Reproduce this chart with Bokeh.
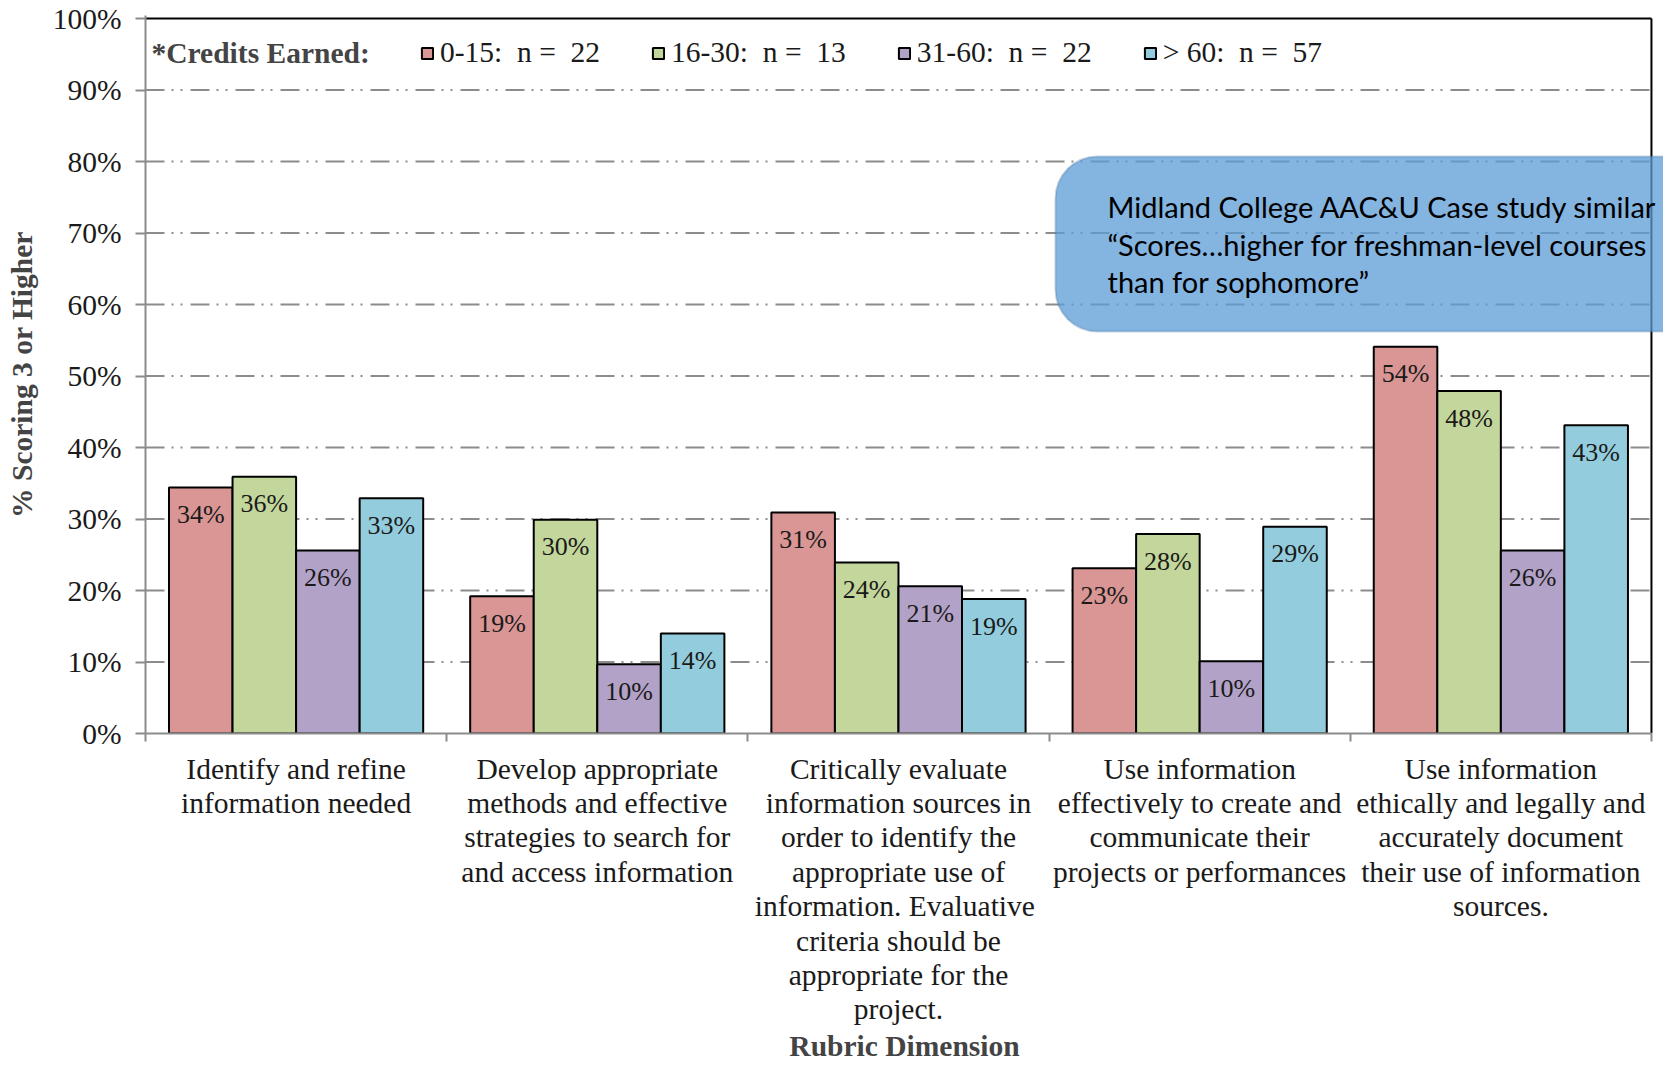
from bokeh.plotting import figure
from bokeh.models import (Range1d, FixedTicker, ColumnDataSource, Legend, LegendItem,
                          Label, BoxAnnotation, PrintfTickFormatter)
from bokeh.transform import dodge
from bokeh.core.properties import value
from bokeh.embed import file_html
from bokeh.resources import INLINE

# ---------------- data ----------------
categories = [
    "Identify and refine\ninformation needed",
    "Develop appropriate\nmethods and effective\nstrategies to search for\nand access information",
    "Critically evaluate\ninformation sources in\norder to identify the\nappropriate use of\ninformation.  Evaluative\ncriteria should be\nappropriate for the\nproject.",
    "Use information\neffectively to create and\ncommunicate their\nprojects or performances",
    "Use information\nethically and legally and\naccurately document\ntheir use of information\nsources.",
]
series_names = ["0-15:  n =  22", "16-30:  n =  13", "31-60:  n =  22", "> 60:  n =  57"]
credits_0_15 = [34.4, 19.2, 30.9, 23.1, 54.1]
credits_16_30 = [35.9, 29.9, 23.9, 27.9, 47.9]
credits_31_60 = [25.6, 9.7, 20.6, 10.1, 25.6]
credits_60_plus = [32.9, 14.0, 18.8, 28.9, 43.1]
y_ticks = [0, 10, 20, 30, 40, 50, 60, 70, 80, 90, 100]
legend_title = "*Credits Earned:"
x_title = "Rubric Dimension"
y_title = "% Scoring 3 or Higher"
callout_lines = [
    "Midland College AAC&U Case study similar",
    "\u201cScores\u2026higher for freshman-level courses",
    "than for sophomore\u201d",
]

colors = ["#D99694", "#C3D69B", "#B3A2C7", "#93CDDD"]
series = [credits_0_15, credits_16_30, credits_31_60, credits_60_plus]

# ---------------- layout ----------------
W, H = 1663, 1065
FL, FT, FB = 145, 15, 733
X_END = 5.04
Y_END = 100.42
xpx = (W - FL) / X_END
ypx = (FB - FT) / Y_END


def px2x(px):
    return (px - FL) / xpx


def py2y(py):
    return (FB - py) / ypx


SERIF = "Liberation Serif"
GRAY = "#8C8C8C"
n_cat = len(categories)
centers = [i + 0.5 for i in range(n_cat)]
bar_w = 0.211

data = dict(x=centers)
for k, s in enumerate(series):
    data[f"s{k}"] = s
    data[f"l{k}"] = [f"{round(v)}%" for v in s]
source = ColumnDataSource(data)

p = figure(width=W, height=H, output_backend="svg", toolbar_location=None,
           x_range=Range1d(0, X_END), y_range=Range1d(0, Y_END),
           min_border_left=FL, min_border_right=0, min_border_top=FT,
           min_border_bottom=H - FB)
p.outline_line_color = None
p.xgrid.visible = False
p.ygrid.visible = False

# gridlines (dash-dot-dot), bounded to the plot area
grid_y = [t for t in y_ticks if 0 < t < 100]
p.segment(x0=[0] * len(grid_y), x1=[n_cat] * len(grid_y), y0=grid_y, y1=grid_y,
          line_color=GRAY, line_width=2, line_dash="19 7 2 7 2 8")

# bars
renderers = []
for k in range(4):
    off = (k - 1.5) * bar_w
    r = p.vbar(x=dodge("x", off), top=f"s{k}", width=bar_w, source=source,
               fill_color=colors[k], line_color="black", line_width=2)
    renderers.append(r)
    p.text(x=dodge("x", off), y=f"s{k}", text=f"l{k}", source=source,
           text_align="center", text_baseline="middle", y_offset=27,
           text_font=value(SERIF), text_font_size="26px", text_color="#1a1a1a")

# plot-area border (top and right)
p.segment(x0=[0, n_cat], y0=[100, 0], x1=[n_cat, n_cat], y1=[100, 100],
          line_color="black", line_width=2)

# y axis
yax = p.yaxis[0]
yax.ticker = FixedTicker(ticks=y_ticks)
yax.formatter = PrintfTickFormatter(format="%d%%")
yax.major_tick_out = 10
yax.major_tick_in = 0
yax.minor_tick_line_color = None
yax.axis_line_color = GRAY
yax.axis_line_width = 2
yax.major_tick_line_color = GRAY
yax.major_tick_line_width = 2
yax.major_label_text_font = SERIF
yax.major_label_text_font_size = "29.5px"
yax.major_label_text_color = "#1a1a1a"
yax.major_label_standoff = 14
yax.axis_label = y_title
yax.axis_label_text_font = SERIF
yax.axis_label_text_font_size = "29.5px"
yax.axis_label_text_font_style = "bold"
yax.axis_label_standoff = 12

# x axis
xax = p.xaxis[0]
xax.ticker = FixedTicker(ticks=centers, minor_ticks=list(range(n_cat + 1)))
xax.major_label_overrides = {c: lab for c, lab in zip(centers, categories)}
xax.bounds = (0, n_cat)
xax.major_tick_line_color = None
xax.major_tick_out = 0
xax.major_tick_in = 0
xax.minor_tick_out = 8
xax.minor_tick_in = 0
xax.minor_tick_line_color = GRAY
xax.minor_tick_line_width = 2
xax.axis_line_color = GRAY
xax.axis_line_width = 2
xax.major_label_text_font = SERIF
xax.major_label_text_font_size = "29.5px"
xax.major_label_text_color = "#1a1a1a"
xax.major_label_text_line_height = 1.075
xax.major_label_standoff = 11
xax.axis_label = x_title
xax.axis_label_text_font = SERIF
xax.axis_label_text_font_size = "29.5px"
xax.axis_label_text_font_style = "bold"
xax.axis_label_text_line_height = 1.0
xax.axis_label_standoff = 2

# legend
legend = Legend(items=[LegendItem(label=n, renderers=[r]) for n, r in zip(series_names, renderers)],
                orientation="horizontal", location=(420 - FL, 664),
                glyph_width=14, glyph_height=14, label_standoff=6, spacing=51,
                padding=0, margin=0, border_line_color=None, background_fill_alpha=0,
                label_text_font=SERIF, label_text_font_size="29.5px",
                label_text_color="#1a1a1a")
p.add_layout(legend, "center")
p.add_layout(Label(x=px2x(151), y=py2y(52), text=legend_title, text_baseline="middle",
                   text_font=SERIF, text_font_size="29.5px", text_font_style="bold"))

# callout
p.add_layout(BoxAnnotation(left=px2x(1055), right=px2x(1720), top=py2y(156), bottom=py2y(331),
                           fill_color="#5B9BD5", fill_alpha=0.75, line_color="#41719C",
                           line_width=2, border_radius=42))
for i, line in enumerate(callout_lines):
    p.add_layout(Label(x=px2x(1107), y=py2y(206 + 37.5 * i), text=line, text_baseline="middle",
                       text_font="Lato", text_font_size="29px", text_color="black"))

open("out.html", "w").write(file_html(p, INLINE))
